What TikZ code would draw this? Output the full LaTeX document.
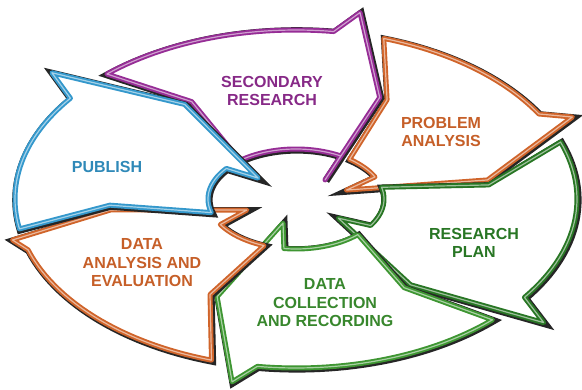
\documentclass[tikz,border=0pt]{standalone}
\usepackage{fontspec}
\newfontfamily\lblfont{Liberation Sans}
\usetikzlibrary{positioning}

\definecolor{purp}{RGB}{150,45,150}
\definecolor{orng}{RGB}{208,100,42}
\definecolor{grn}{RGB}{62,150,50}
\definecolor{dkgrn}{RGB}{40,118,36}
\definecolor{blu}{RGB}{52,152,204}

% band point: angle on the ring, 0 = inner rim, 1 = outer rim
\newcommand{\bp}[2]{({bx(#1,#2)},{by(#1,#2)})}

\begin{document}
\begin{tikzpicture}[
    x=1pt, y=1pt,
    declare function={bx(\t,\s)=296+(88+193*\s)*cos(\t); by(\t,\s)=190+(50+119*\s)*sin(\t);},
    seg/.style={fill=white, draw=#1, line width=5pt, line join=round,
      preaction={draw=black!85, line width=7.4pt, transform canvas={shift={(0.9pt,-0.9pt)}}},
      postaction={draw=#1!45!white, line width=1.2pt}},
    lbl/.style={align=center, inner sep=0pt, text=#1,
      font=\lblfont\bfseries\fontsize{16}{18.5}\selectfont}
  ]
  \useasboundingbox (0,0) rectangle (582,389);

  % ring segments, clockwise
  \draw[seg=purp] \bp{132.3}{1} -- plot[domain=132.3:82.3, samples=30] ({bx(\x,1)},{by(\x,1)})
    -- \bp{78.3}{1.18} -- \bp{63.9}{.53} -- \bp{51.4}{-.215}
    -- plot[domain=59.4:129.6, samples=30] ({bx(\x,0)},{by(\x,0)}) -- \bp{122.5}{.55} -- cycle;
  \draw[seg=orng] \bp{71.8}{1} -- plot[domain=71.8:30.2, samples=30] ({bx(\x,1)},{by(\x,1)})
    -- \bp{26.2}{1.14} -- \bp{9.5}{.55} -- \bp{18.2}{-.18}
    -- plot[domain=26.2:52.5, samples=30] ({bx(\x,0)},{by(\x,0)}) -- \bp{61.4}{.53} -- cycle;
  \draw[seg=dkgrn] \bp{19.7}{1} -- plot[domain=19.7:-35.6, samples=30] ({bx(\x,1)},{by(\x,1)})
    -- \bp{-39.6}{1.21} -- \bp{-51.6}{.5} -- \bp{-40}{-.17}
    -- plot[domain=-32:13.55, samples=30] ({bx(\x,0)},{by(\x,0)}) -- \bp{7}{.55} -- cycle;
  \draw[seg=grn] \bp{-45.65}{1} -- plot[domain=-45.65:-97.9, samples=30] ({bx(\x,1)},{by(\x,1)})
    -- \bp{-101.9}{1.15} -- \bp{-115.6}{.49} -- \bp{-105.9}{-.21}
    -- plot[domain=-97.9:-45.4, samples=30] ({bx(\x,0)},{by(\x,0)}) -- \bp{-54.1}{.5} -- cycle;
  \draw[seg=orng] \bp{-107.5}{1} -- plot[domain=-107.5:-162.5, samples=30] ({bx(\x,1)},{by(\x,1)})
    -- \bp{-166.5}{1.055} -- \bp{-174.3}{.51} -- \bp{-157.3}{-.18}
    -- plot[domain=-149.3:-111.3, samples=30] ({bx(\x,0)},{by(\x,0)}) -- \bp{-118.1}{.49} -- cycle;
  \draw[seg=blu] \bp{-169.8}{1} -- plot[domain=-169.8:-216.6, samples=30] ({bx(\x,1)},{by(\x,1)})
    -- \bp{-220.6}{1.21} -- \bp{-235}{.55} -- \bp{-225.7}{-.175}
    -- plot[domain=-217.7:-164.2, samples=30] ({bx(\x,0)},{by(\x,0)}) -- \bp{-176.8}{.51} -- cycle;

  % labels
  \node[lbl=purp!90!black] (sec) at (272,298) {SECONDARY\\RESEARCH};
  \node[lbl=orng!95!black] (prob) at (441,257) {PROBLEM\\ANALYSIS};
  \node[lbl=dkgrn] (plan) at (474,146) {RESEARCH\\PLAN};
  \node[lbl=grn!90!black] (coll) at (325,86) {DATA\\COLLECTION\\AND RECORDING};
  \node[lbl=orng!95!black] (anal) at (142,126) {DATA\\ANALYSIS AND\\EVALUATION};
  \node[lbl=blu!90!black] (pub) at (107,222) {PUBLISH};
\end{tikzpicture}
\end{document}
